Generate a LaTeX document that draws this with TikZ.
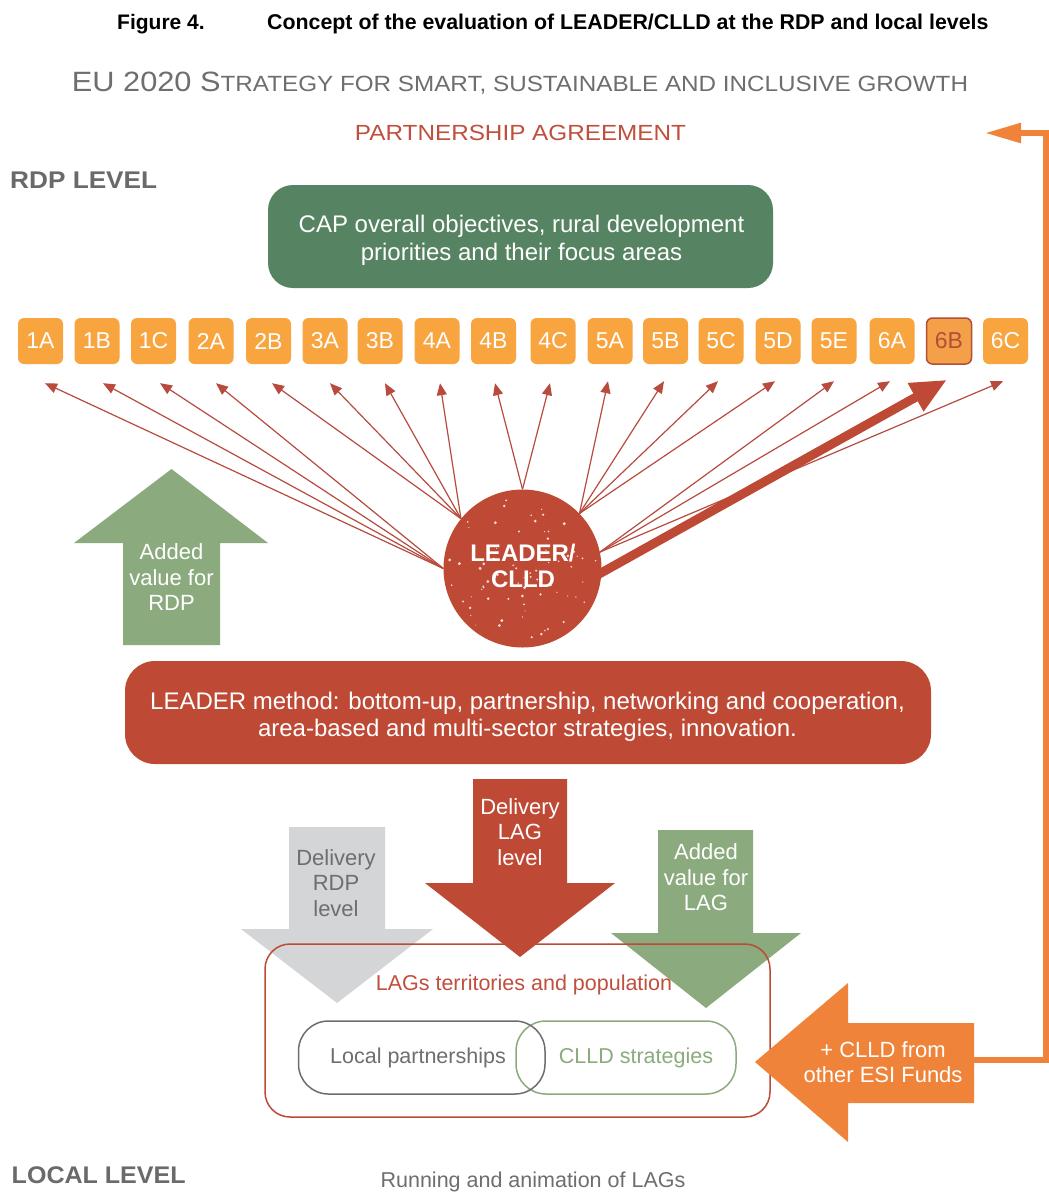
\documentclass[tikz,border=0pt]{standalone}
\usepackage{fontspec}
\setmainfont{Liberation Sans}
\usepackage{graphicx}
\usetikzlibrary{arrows.meta,calc}
\pgfdeclarelayer{bg}
\pgfdeclarelayer{paper}
\pgfsetlayers{paper,bg,main}
\definecolor{leadred}{HTML}{BE4A36}
\definecolor{linered}{HTML}{B84A3E}
\definecolor{boxorange}{HTML}{F8A43F}
\definecolor{sixborder}{HTML}{B0503A}
\definecolor{sixfill}{HTML}{F4A048}
\definecolor{capgreen}{HTML}{568462}
\definecolor{lightgreen}{HTML}{8BAB7E}
\definecolor{arrgray}{HTML}{D4D5D7}
\definecolor{bigorange}{HTML}{F0833A}
\definecolor{txtgray}{HTML}{6E6E6E}
\definecolor{lvlgray}{HTML}{6A6A6A}
\definecolor{partred}{HTML}{C0503D}
\newcommand{\fsz}[2]{\fontsize{#1}{#2}\selectfont}
\begin{document}
\begin{tikzpicture}[x=1pt,y=-1pt,
  obox/.style={rectangle, rounded corners=6pt, fill=boxorange, text=white, minimum width=45pt, minimum height=46pt, inner sep=0pt, font=\fsz{23}{26}},
  thinarr/.style={draw=linered, line width=1.2pt, -{Triangle[length=12pt,width=10pt]}},
  thickarr/.style={draw=leadred, line width=9pt, -{Triangle[length=36pt,width=30pt]}},
  wtext/.style={text=white, align=center, font=\fsz{22}{25.5}},
  plain/.style={inner sep=0pt, anchor=base},
  pill/.style={line width=1.5pt, rounded corners=30pt, minimum height=73pt, inner sep=0pt}]
\useasboundingbox (0,0) rectangle (1049,1192);
\begin{pgfonlayer}{paper}
\fill[white] (0,0) rectangle (1049,1192);
\end{pgfonlayer}

% titles
\node[plain, anchor=base west, font=\bfseries\fsz{21}{25}] (fignum) at (117,29.5) {Figure 4.};
\node[plain, anchor=base west, font=\bfseries\fsz{21.35}{25}] (figtitle) at (267,29.5) {Concept of the evaluation of LEADER/CLLD at the RDP and local levels};
\node[plain, text=txtgray] (eu) at (520,91) {\resizebox{896pt}{19.5pt}{\fsz{26}{30}EU 2020 S\fsz{20.5}{24}TRATEGY FOR SMART, SUSTAINABLE AND INCLUSIVE GROWTH}};
\node[plain, text=partred] (pa) at (520.5,140) {\resizebox{331pt}{15.3pt}{\fsz{21}{24}PARTNERSHIP AGREEMENT}};
\node[plain, anchor=base west, text=lvlgray] (rdplvl) at (10,188.3) {\resizebox{147pt}{16.6pt}{\bfseries\fsz{22}{26}RDP LEVEL}};
\node[plain, anchor=base west, text=lvlgray] (loclvl) at (11.5,1183.3) {\resizebox{174pt}{16.8pt}{\bfseries\fsz{22}{26}LOCAL LEVEL}};

% CAP box
\node[fill=capgreen, rounded corners=25pt, minimum width=505pt, minimum height=103pt, inner sep=0pt] (capbox) at (520.5,236.5) {};
\node[wtext, font=\fsz{24}{28}] (captext) at (521.5,240) {CAP overall objectives, rural development\\priorities and their focus areas};

% focus area boxes
\foreach \l/\x in {1A/40.5,1B/97,1C/153.5,2A/211,2B/268.5,3A/325,3B/380,4A/437,4B/493.5,4C/553,5A/610,5B/665.5,5C/721,5D/778,5E/834,6A/892,6C/1005.5}
  \node[obox] (b\l) at (\x,341) {\l};
\node[obox, fill=sixfill, draw=sixborder, line width=1.5pt, text=sixborder] (b6B) at (949,341) {6B};

% LEADER circle
\node[circle, fill=leadred, minimum size=158pt, inner sep=0pt] (leader) at (522.5,568.5) {};
\pgfmathsetseed{42}
\foreach \k in {1,...,70} {
  \pgfmathsetmacro\spa{rnd*360}
  \pgfmathsetmacro\spr{74*sqrt(rnd)}
  \pgfmathsetmacro\sps{0.5+1.1*rnd}
  \fill[white, opacity=0.8] (leader.center) ++(\spa:\spr) circle (\sps);
}
\node[text=white, align=center, font=\bfseries\fsz{24}{26}] (leadertxt) at (523,566) {LEADER/\\CLLD};

\begin{pgfonlayer}{bg}
\foreach \l/\dx in {1A/4.5,1B/6,1C/6.5,2A/5}
  \draw[thinarr] (leader.180) -- ($(b\l.south)+(\dx,19)$);
\foreach \l/\dx in {2B/3.5,3A/5,3B/5,4A/3}
  \draw[thinarr] (leader.141) -- ($(b\l.south)+(\dx,19)$);
\foreach \l/\dx in {4B/1.5,4C/-3}
  \draw[thinarr] (leader.90) -- ($(b\l.south)+(\dx,19)$);
\foreach \l/\dx in {5A/-2,5B/-1.5,5C/-3,5D/-3}
  \draw[thinarr] (leader.44) -- ($(b\l.south)+(\dx,17)$);
\foreach \l/\dx in {5E/0,6A/-2,6C/-2.5}
  \draw[thinarr] (leader.12) -- ($(b\l.south)+(\dx,17)$);
\draw[thickarr, shorten <=-6pt] (leader.-3) -- ($(b6B.south)+(-2,15)$);
\end{pgfonlayer}

% added value for RDP (up arrow)
\fill[lightgreen] (123,645) -- (220,645) -- (220,543) -- (268,543) -- (171.5,469) -- (74,543) -- (123,543) -- cycle;
\node[wtext] (addrdp) at (171.5,577.5) {Added\\value for\\RDP};

% LEADER method box
\node[fill=leadred, rounded corners=30pt, minimum width=806pt, minimum height=103pt, inner sep=0pt] (ldrbox) at (528,712.5) {};
\node[wtext, font=\fsz{24}{27}] (ldrtext) at (527.5,717) {LEADER method: bottom-up, partnership, networking and cooperation,\\area-based and multi-sector strategies, innovation.};

% delivery arrows
\fill[arrgray] (289,827) -- (385,827) -- (385,929) -- (433,929) -- (337,1003) -- (241,929) -- (289,929) -- cycle;
\node[wtext, text=txtgray] (delrdp) at (336,883) {Delivery\\RDP\\level};
\fill[leadred] (473,779) -- (567,779) -- (567,883) -- (615,883) -- (520,957) -- (425,883) -- (473,883) -- cycle;
\node[wtext] (dellag) at (520,832) {Delivery\\LAG\\level};
\fill[lightgreen] (658,830) -- (753,830) -- (753,933) -- (801,933) -- (706,1008) -- (611,933) -- (658,933) -- cycle;
\node[wtext] (addlag) at (706,877.5) {Added\\value for\\LAG};

% LAG box
\node[draw=leadred, line width=1.5pt, rounded corners=25pt, minimum width=505pt, minimum height=173pt, inner sep=0pt] (lagbox) at (517.5,1030.5) {};
\node[plain, text=partred, font=\fsz{21.5}{25}] (lagtitle) at (524,990) {LAGs territories and population};
\node[pill, draw=lightgreen, minimum width=220pt] (clldpill) at (626,1057.5) {};
\node[pill, draw=txtgray, minimum width=246.5pt] (localpill) at (421.75,1057.5) {};
\node[plain, text=txtgray, font=\fsz{21.5}{25}] (localtxt) at (418,1063) {Local partnerships};
\node[plain, text=lightgreen, font=\fsz{21.5}{25}] (clldtxt) at (636,1063) {CLLD strategies};

% orange arrow from other ESI funds
\fill[bigorange] (755,1062) -- (848,983) -- (848,1023) -- (974,1023) -- (974,1103) -- (848,1103) -- (848,1142) -- cycle;
\node[wtext, font=\fsz{22}{25}] (esi) at (883,1062.5) {+ CLLD from\\other ESI Funds};
\coordinate (orEnd) at (972,1060);
\coordinate (cTop) at (1046,133);
\coordinate (paTip) at (985,133);
\draw[bigorange, line width=5.5pt, -{Triangle[length=36pt,width=19pt]}] (orEnd) -| (cTop) -- (paTip);

\node[plain, text=txtgray, font=\fsz{21.5}{25}] (running) at (533,1187) {Running and animation of LAGs};
\end{tikzpicture}
\end{document}
